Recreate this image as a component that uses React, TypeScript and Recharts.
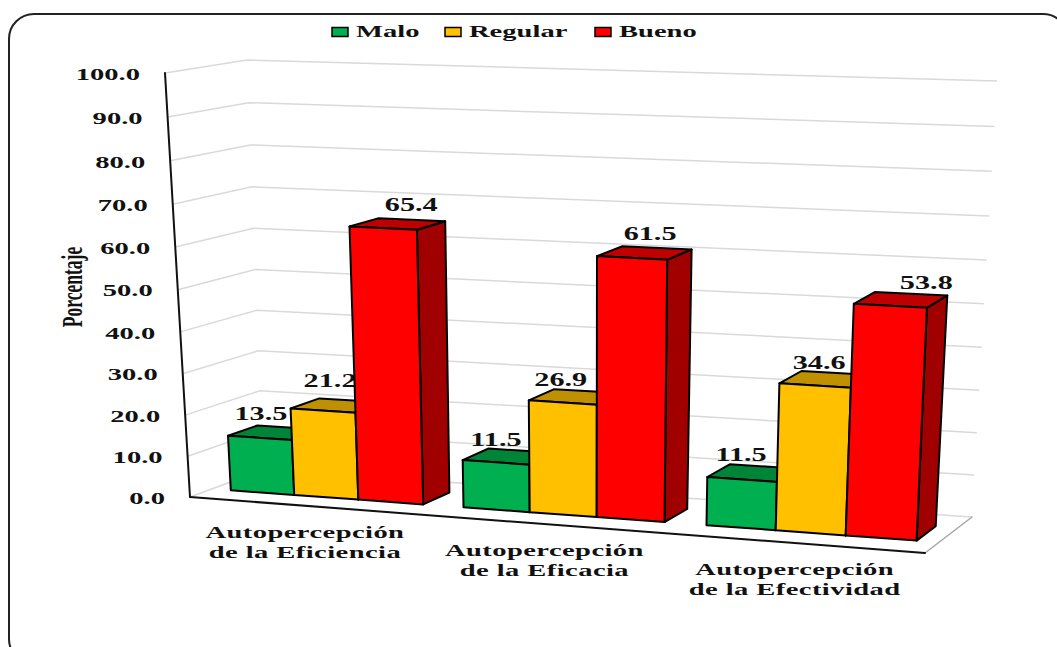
import { BarChart, Bar, XAxis, YAxis, CartesianGrid, Legend } from 'recharts';

const categories = ['Autopercepción\nde la Eficiencia', 'Autopercepción\nde la Eficacia', 'Autopercepción\nde la Efectividad'];
const malo = [13.5, 11.5, 11.5];
const regular = [21.2, 26.9, 34.6];
const bueno = [65.4, 61.5, 53.8];
const valueTicks = [0, 10, 20, 30, 40, 50, 60, 70, 80, 90, 100];

const tableData = categories.map((name, i) => ({ name, Malo: malo[i], Regular: regular[i], Bueno: bueno[i] }));

const WIDTH = 1057;
const HEIGHT = 647;

// flat plot box handed to recharts, everything is projected out of it afterwards
const PLOT = { left: 60, top: 40, width: 900, height: 500 };
const AXIS_SIZE = 20;

// screen corners of the 3d box: [x, y], front/back, bottom/top, left/right
const BOX = {
    fbl: [190, 497], fbr: [925, 553], ftl: [165, 73], ftr: [944, 108],
    bbl: [263, 470], bbr: [972, 517], btl: [247, 60], btr: [997, 81],
};
const PERSPECTIVE_X = 1.068;
const PERSPECTIVE_Y = 1.045;
const BAR_FRONT = 0.3;
const BAR_BACK = 0.7;

const TEXT_STRETCH = 1.68;
const FONT = '"Liberation Serif", serif';

// hand-placed value labels, offset from the middle of the bar's top front edge
const labelShift: Record<string, number[][]> = {
    Malo: [[1, -24], [0, -23], [-1, -25]],
    Regular: [[7, -30], [-2, -23], [4, -23]],
    Bueno: [[28, -23], [18, -24], [36, -23]],
};

const legendSlots = [332, 445, 595];

const seriesColors: Record<string, { front: string; top: string; side: string }> = {
    Malo: { front: '#00B050', top: '#008438', side: '#006a2c' },
    Regular: { front: '#FFC000', top: '#BF9000', side: '#a07800' },
    Bueno: { front: '#FF0000', top: '#BF0000', side: '#A00000' },
};

const warp = (s: number, k: number) => s / (k - (k - 1) * s);
const mix = (a: number[], b: number[], s: number) => [a[0] + (b[0] - a[0]) * s, a[1] + (b[1] - a[1]) * s];

function project(t: number, val: number, depth: number) {
    const u = warp(t, PERSPECTIVE_X);
    const v = warp(val, PERSPECTIVE_Y);
    const front = mix(mix(BOX.fbl, BOX.fbr, u), mix(BOX.ftl, BOX.ftr, u), v);
    const back = mix(mix(BOX.bbl, BOX.bbr, u), mix(BOX.btl, BOX.btr, u), v);
    return mix(front, back, depth);
}

const toPoints = (pts: number[][]) => pts.map((p) => `${p[0].toFixed(1)},${p[1].toFixed(1)}`).join(' ');
const flatT = (x: number) => (x - PLOT.left) / PLOT.width;
const flatV = (y: number) => (PLOT.top + PLOT.height - y) / PLOT.height;

function WideText({ x, y, anchor = 'middle', size = 17, spacing = 0, children }: any) {
    return (
        <text
            transform={`translate(${x} ${y}) scale(${TEXT_STRETCH} 1)`}
            textAnchor={anchor}
            dominantBaseline="central"
            fontFamily={FONT}
            fontWeight={700}
            fontSize={size}
            letterSpacing={spacing}
            stroke="none"
            fill="#111"
        >
            {children}
        </text>
    );
}

function PrismBar(props: any) {
    const { x, y, width, index, payload, dataKey } = props;
    const colors = seriesColors[dataKey];
    const t0 = flatT(x);
    const t1 = flatT(x + width);
    const v = flatV(y);

    const front = [project(t0, 0, BAR_FRONT), project(t1, 0, BAR_FRONT), project(t1, v, BAR_FRONT), project(t0, v, BAR_FRONT)];
    const top = [project(t0, v, BAR_FRONT), project(t1, v, BAR_FRONT), project(t1, v, BAR_BACK), project(t0, v, BAR_BACK)];
    const side = [project(t1, 0, BAR_FRONT), project(t1, 0, BAR_BACK), project(t1, v, BAR_BACK), project(t1, v, BAR_FRONT)];
    const anchor = mix(front[3], front[2], 0.5);
    const shift = labelShift[dataKey][index];

    return (
        <g stroke="#000" strokeWidth={2} strokeLinejoin="round">
            <polygon points={toPoints(side)} fill={colors.side} />
            <polygon points={toPoints(top)} fill={colors.top} />
            <polygon points={toPoints(front)} fill={colors.front} />
            <WideText x={anchor[0] + shift[0]} y={anchor[1] + shift[1]} size={18}>{payload[dataKey].toFixed(1)}</WideText>
        </g>
    );
}

// each gridline runs along the side wall and then across the back wall
function WallLine(props: any) {
    const v = flatV(props.y1);
    return (
        <polyline
            key={props.key}
            points={toPoints([project(0, v, 0), project(0, v, 1), project(1, v, 1)])}
            fill="none"
            stroke="#d9d9d9"
            strokeWidth={1.5}
        />
    );
}

function ValueTick({ y, payload }: any) {
    const p = project(0, flatV(y), 0);
    return <WideText x={p[0] - 25} y={p[1] + 1} anchor="end">{payload.value.toFixed(1)}</WideText>;
}

function CategoryTick({ x, payload }: any) {
    const p = project(flatT(x), 0, 0);
    const lines = String(payload.value).split('\n');
    return (
        <g>
            {lines.map((line, i) => (
                <WideText key={line} x={p[0] - 1} y={p[1] + 26.5 + i * 20} spacing={0.25}>{line}</WideText>
            ))}
        </g>
    );
}

function AxisTitle() {
    return (
        <text
            transform={`translate(72 287) scale(${TEXT_STRETCH} 1) rotate(-90)`}
            textAnchor="middle"
            dominantBaseline="central"
            fontFamily={FONT}
            fontWeight={700}
            fontSize={17.5}
            fill="#111"
        >
            Porcentaje
        </text>
    );
}

function FloorEdges() {
    return (
        <g fill="none" strokeLinecap="round">
            <line x1={BOX.fbr[0]} y1={BOX.fbr[1]} x2={BOX.bbr[0]} y2={BOX.bbr[1]} stroke="#a6a6a6" strokeWidth={1.5} />
            <line x1={BOX.ftl[0]} y1={BOX.ftl[1]} x2={BOX.fbl[0]} y2={BOX.fbl[1]} stroke="#111" strokeWidth={2} />
            <line x1={BOX.fbl[0]} y1={BOX.fbl[1]} x2={BOX.fbr[0]} y2={BOX.fbr[1]} stroke="#111" strokeWidth={2} />
        </g>
    );
}

function LegendRow({ payload }: any) {
    return (
        <svg width={WIDTH} height={50} style={{ display: 'block' }}>
            {(payload || []).map((entry: any, i: number) => (
                <g key={entry.value}>
                    <rect x={legendSlots[i]} y={27.5} width={16} height={9} fill={entry.color} stroke="#000" strokeWidth={1.5} />
                    <WideText x={legendSlots[i] + 24} y={31.5} anchor="start">{entry.value}</WideText>
                </g>
            ))}
        </svg>
    );
}

export default function App() {
    return (
        <div style={{ position: 'absolute', left: 0, top: 0, width: WIDTH, height: HEIGHT, overflow: 'hidden', background: '#fff' }}>
            <div style={{
                position: 'absolute', left: 8, top: 13, width: 1057, height: 648,
                border: '2px solid #222', borderRadius: 26,
            }} />
            <BarChart
                width={WIDTH}
                height={HEIGHT}
                data={tableData}
                margin={{
                    top: PLOT.top,
                    left: PLOT.left - AXIS_SIZE,
                    right: WIDTH - PLOT.left - PLOT.width,
                    bottom: HEIGHT - PLOT.top - PLOT.height - AXIS_SIZE,
                }}
                barCategoryGap="8.3%"
                barGap={0}
                style={{ position: 'absolute', left: 0, top: 0 }}
            >
                <CartesianGrid vertical={false} horizontal={WallLine} />
                <XAxis dataKey="name" height={AXIS_SIZE} axisLine={false} tickLine={false} interval={0} tick={CategoryTick} />
                <YAxis width={AXIS_SIZE} domain={[0, 100]} ticks={valueTicks} axisLine={false} tickLine={false} interval={0} tick={ValueTick} />
                <FloorEdges />
                <AxisTitle />
                <Legend
                    verticalAlign="middle"
                    align="center"
                    itemSorter={null}
                    content={LegendRow}
                    wrapperStyle={{ position: 'absolute', left: 0, top: 0, width: WIDTH, height: 50 }}
                />
                <Bar dataKey="Malo" fill={seriesColors.Malo.front} shape={PrismBar} isAnimationActive={false} />
                <Bar dataKey="Regular" fill={seriesColors.Regular.front} shape={PrismBar} isAnimationActive={false} />
                <Bar dataKey="Bueno" fill={seriesColors.Bueno.front} shape={PrismBar} isAnimationActive={false} />
            </BarChart>
        </div>
    );
}
